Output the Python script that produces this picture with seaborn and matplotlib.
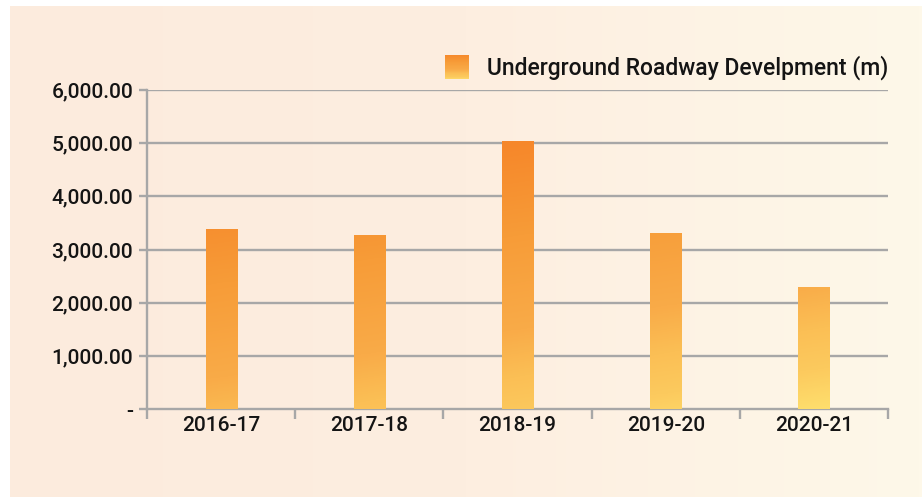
import matplotlib
matplotlib.use('Agg')
import matplotlib.pyplot as plt
import matplotlib.colors as mcolors
from matplotlib.patches import Rectangle
from matplotlib.legend_handler import HandlerBase
from matplotlib.image import BboxImage
import numpy as np
import pandas as pd
import seaborn as sns

# data
years = ['2016-17', '2017-18', '2018-19', '2019-20', '2020-21']
roadway_m = [3390, 3270, 5040, 3310, 2290]
series_name = 'Underground Roadway Develpment (m)'
ytick_vals = [0, 1000, 2000, 3000, 4000, 5000, 6000]

df = pd.DataFrame({'year': years, 'value': roadway_m})

sns.set_theme(style='white')
plt.rcParams['font.family'] = ['Roboto', 'DejaVu Sans']
plt.rcParams['font.weight'] = 'medium'

fig = plt.figure(figsize=(9.22, 4.97), dpi=100)
fig.patch.set_facecolor('white')

# background panel gradient (peach -> cream)
bg = fig.add_axes([10 / 922, 0, 912 / 922, 491 / 497], zorder=0)
bg_cmap = mcolors.LinearSegmentedColormap.from_list('bg', ['#fcebdd', '#fdeee0', '#fef8e9'])
grad = np.linspace(0, 1, 256).reshape(1, -1)
bg.imshow(grad, cmap=bg_cmap, aspect='auto', extent=[0, 1, 0, 1])
bg.set_axis_off()

ax = fig.add_axes([147 / 922, (497 - 409) / 497, 741 / 922, 319 / 497], zorder=1)
ax.patch.set_alpha(0)

sns.barplot(data=df, x='year', y='value', width=0.21, color='#f68c2a', ax=ax,
            zorder=3, legend=False)

ax.set_ylim(0, 6000)
ax.set_xlim(-0.5, len(years) - 0.5)

# gradient fill inside bars (darker at top, lighter to the bottom and to the right)
bar_cmap = mcolors.LinearSegmentedColormap.from_list(
    'bar', [(0, '#f6872a'), (0.3, '#f79c38'), (0.6, '#f9ab48'),
            (0.75, '#fbbf55'), (0.88, '#fcca5e'), (1, '#fedd6c')])
top = max(roadway_m)
yy = np.linspace(1, 0, 256)
xx = np.linspace(0, 1, 128)
X, Y = np.meshgrid(xx, yy)
field = np.clip(0.6625 - 0.85 * Y + 0.375 * X, 0, 1)
for p in ax.patches:
    p.set_facecolor('none')
    p.set_edgecolor('none')
    im = ax.imshow(field, cmap=bar_cmap, vmin=0, vmax=1, aspect='auto',
                   extent=[-0.5, len(years) - 0.5, 0, top], zorder=3)
    im.set_clip_path(p)

# grid & spines
grid_c = '#a7a7a7'
for v in ytick_vals[1:]:
    ax.axhline(v, color=grid_c, lw=1.7, zorder=1)
for s in ['top', 'right']:
    ax.spines[s].set_visible(False)
for s in ['left', 'bottom']:
    ax.spines[s].set_color(grid_c)
    ax.spines[s].set_linewidth(1.7)

ax.set_yticks(ytick_vals)
ax.set_yticklabels(['-' if v == 0 else f'{v:,.2f}' for v in ytick_vals])
ax.tick_params(axis='y', length=6, width=1.7, color=grid_c, labelsize=15,
               labelcolor='#141414', pad=4, left=True)
ax.tick_params(axis='x', length=0, labelsize=15, labelcolor='#141414', pad=5)
ax.set_xticks(range(len(years)))
ax.set_xticklabels(years)
# boundary ticks on the category axis
ax.set_xticks(np.arange(-0.5, len(years)), minor=True)
ax.tick_params(axis='x', which='minor', length=7, width=1.7, color=grid_c, bottom=True)
ax.set_xlabel('')
ax.set_ylabel('')


class GradHandler(HandlerBase):
    def create_artists(self, legend, orig, xd, yd, w, h, fontsize, trans):
        s = h * 1.45
        r = Rectangle((xd + (w - s) / 2, yd + h / 2 - s / 2), s, s, transform=trans,
                      facecolor='none', edgecolor='none')
        g = np.linspace(0.05, 0.95, 32).reshape(-1, 1)
        im = BboxImage(r.get_window_extent, cmap=bar_cmap, norm=mcolors.Normalize(0, 1))
        im.set_data(g)
        im.set_clip_path(r)
        return [r, im]


proxy = Rectangle((0, 0), 1, 1)
leg = ax.legend([proxy], [series_name], handler_map={Rectangle: GradHandler()},
                loc='lower right', bbox_to_anchor=(1.0, 1.03), frameon=False,
                fontsize=16.5, handlelength=1.45, handletextpad=0.6, borderaxespad=0,
                borderpad=0)
for t in leg.get_texts():
    t.set_color('#141414')

fig.savefig('out.png', dpi=100)
